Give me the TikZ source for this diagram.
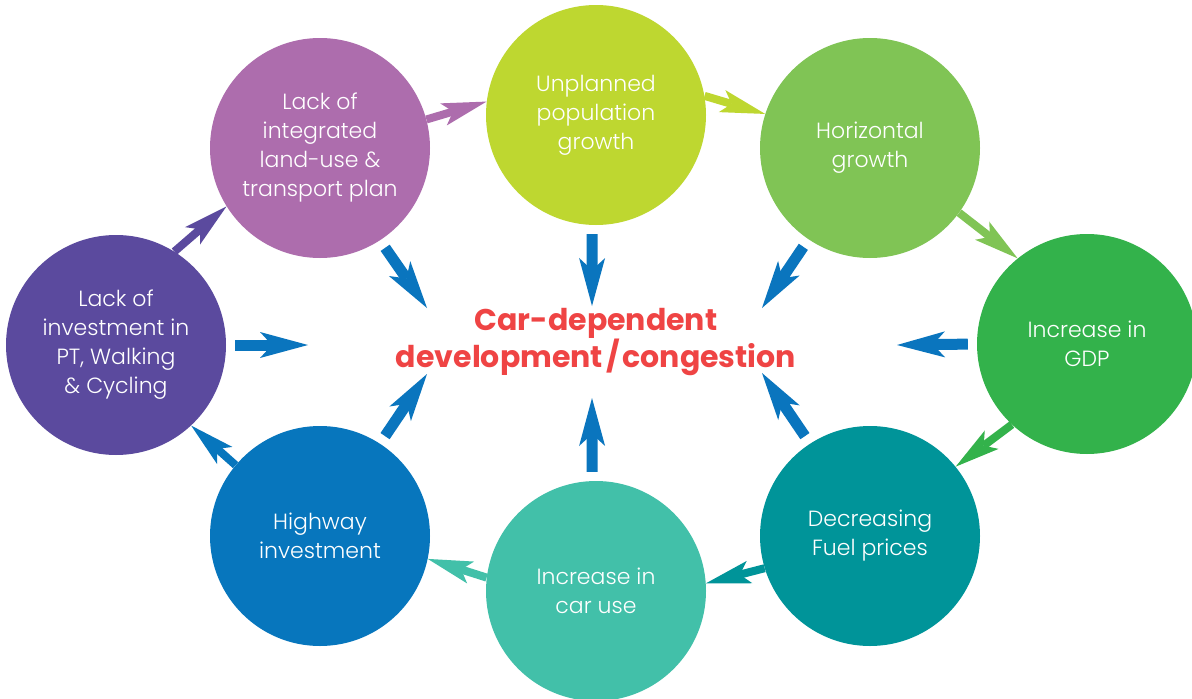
\documentclass[tikz,border=0pt]{standalone}
\usepackage{fontspec}
\setmainfont{Poppins}
\newfontfamily\circfont{Poppins Light}
\usetikzlibrary{arrows.meta}
\definecolor{cLI}{HTML}{AD6DAD}
\definecolor{cUP}{HTML}{BED730}
\definecolor{cHG}{HTML}{80C455}
\definecolor{cGDP}{HTML}{33B24B}
\definecolor{cDF}{HTML}{009499}
\definecolor{cCU}{HTML}{42C0A9}
\definecolor{cHI}{HTML}{0776BD}
\definecolor{cLP}{HTML}{5B4A9E}
\definecolor{cBlue}{HTML}{0A75BE}
\definecolor{cRed}{HTML}{EF4444}
\begin{document}
\begin{tikzpicture}[x=1pt,y=-1pt,
  bubble/.style={circle, minimum size=220pt, inner sep=0pt, text=white, align=center,
    font=\circfont\fontsize{22}{29}\selectfont},
  ring/.style={line width=8pt, -{Stealth[length=45pt,width=23pt,inset=10pt,line width=0pt]}},
  hub/.style={draw=cBlue, line width=11pt, -{Stealth[length=48pt,width=26pt,inset=12pt,line width=0pt]}, shorten <=9pt}]
\useasboundingbox (0,0) rectangle (1192,699);
\fill[white] (0,0) rectangle (1192,699);

\node[bubble, fill=cLI]  (LI)  at (320,148) {Lack of\\integrated\\land-use \&\\transport plan};
\node[bubble, fill=cUP]  (UP)  at (596,115) {Unplanned\\population\\growth};
\node[bubble, fill=cHG]  (HG)  at (870,148) {Horizontal\\growth};
\node[bubble, fill=cGDP] (GDP) at (1087,344) {Increase in\\GDP};
\node[bubble, fill=cDF]  (DF)  at (870,536) {Decreasing\\Fuel prices};
\node[bubble, fill=cCU]  (CU)  at (596,591) {Increase in\\car use};
\node[bubble, fill=cHI]  (HI)  at (320,536) {Highway\\investment};
\node[bubble, fill=cLP]  (LP)  at (116,345) {Lack of\\investment in\\PT, Walking\\\& Cycling};

\node[text=cRed, align=center, font=\bfseries\fontsize{30}{32}\selectfont] (cdd) at (596,342)
  {Car-dependent\\development\kern3pt/\kern3pt congestion};

% ring arrows
\draw[ring, cLI]  (LI.15)   -- (UP.173);
\draw[ring, cUP]  (UP.10)   -- (HG.162);
\draw[ring, cHG]  (HG.-36)  -- (GDP.129);
\draw[ring, cGDP] (GDP.227) -- (DF.39);
\draw[ring, cDF]  (DF.197)  -- (CU.4);
\draw[ring, cCU]  (CU.173)  -- (HI.-12);
\draw[ring, cHI]  (HI.140)  -- (LP.-47);
\draw[ring, cLP]  (LP.58)   -- (LI.212);

% arrows to the centre
\coordinate (tLI)  at (427,308);
\coordinate (tUP)  at (592,306);
\coordinate (tHG)  at (762,308);
\coordinate (tGDP) at (897,345);
\coordinate (tDF)  at (762,373);
\coordinate (tCU)  at (592,398);
\coordinate (tHI)  at (427,374);
\coordinate (tLP)  at (308,345);
\draw[hub] (LI.-57)  -- (tLI);
\draw[hub] (UP.-92)  -- (tUP);
\draw[hub] (HG.-124) -- (tHG);
\draw[hub] (GDP.180) -- (tGDP);
\draw[hub] (DF.123)  -- (tDF);
\draw[hub] (CU.92)   -- (tCU);
\draw[hub] (HI.57)   -- (tHI);
\draw[hub] (LP.0)    -- (tLP);
\end{tikzpicture}
\end{document}
